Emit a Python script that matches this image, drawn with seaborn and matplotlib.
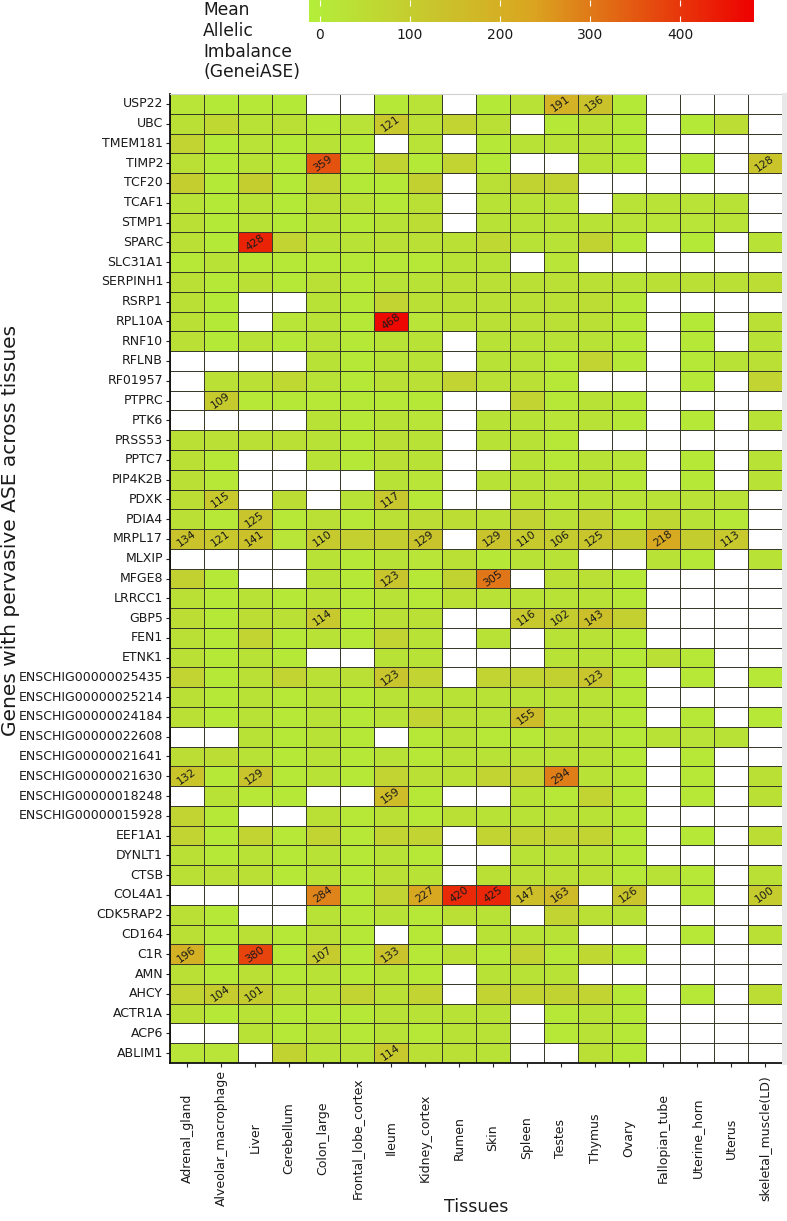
import numpy as np
import pandas as pd
import matplotlib
matplotlib.use("Agg")
import matplotlib.pyplot as plt
import seaborn as sns
from matplotlib.colors import LinearSegmentedColormap
from matplotlib.patches import Rectangle

N = np.nan

tissues = ["Adrenal_gland", "Alveolar_macrophage", "Liver", "Cerebellum", "Colon_large",
           "Frontal_lobe_cortex", "Ileum", "Kidney_cortex", "Rumen", "Skin", "Spleen",
           "Testes", "Thymus", "Ovary", "Fallopian_tube", "Uterine_horn", "Uterus",
           "skeletal_muscle(LD)"]

genes = ["USP22", "UBC", "TMEM181", "TIMP2", "TCF20", "TCAF1", "STMP1", "SPARC", "SLC31A1",
         "SERPINH1", "RSRP1", "RPL10A", "RNF10", "RFLNB", "RF01957", "PTPRC", "PTK6", "PRSS53",
         "PPTC7", "PIP4K2B", "PDXK", "PDIA4", "MRPL17", "MLXIP", "MFGE8", "LRRCC1", "GBP5",
         "FEN1", "ETNK1", "ENSCHIG00000025435", "ENSCHIG00000025214", "ENSCHIG00000024184",
         "ENSCHIG00000022608", "ENSCHIG00000021641", "ENSCHIG00000021630", "ENSCHIG00000018248",
         "ENSCHIG00000015928", "EEF1A1", "DYNLT1", "CTSB", "COL4A1", "CDK5RAP2", "CD164", "C1R",
         "AMN", "AHCY", "ACTR1A", "ACP6", "ABLIM1"]

# Mean allelic imbalance per gene (rows, top to bottom), one list per tissue
adrenal_gland = [20, 35, 75, 35, 95, 30, 35, 35, 15, 35, 35, 35, 35, N, N, N, N, 35, 35, 35, 45, 35, 134, N, 85, 35, 45, 35, 35, 75, 35, 35, N, 45, 132, N, 75, 75, 35, 35, N, 35, 35, 196, 35, 75, 35, N, 20]
alveolar_macrophage = [5, 65, 5, 5, 5, 5, 5, 5, 30, 10, 5, 5, 5, N, 35, 109, N, 35, 15, 15, 115, 15, 121, N, 10, 10, 10, 10, 10, 10, 10, 10, N, 45, 10, 30, 10, 10, 10, 35, N, 10, 10, 10, 10, 104, 10, N, 20]
liver = [10, 30, 25, 30, 95, 30, 30, 428, 15, 35, N, N, 30, N, 35, 15, N, 35, N, N, N, 125, 141, N, N, 30, 45, 75, 30, 35, 30, 30, 30, 30, 129, 15, N, 75, 30, 35, N, N, 35, 380, 35, 101, 30, 30, N]
cerebellum = [5, 35, 5, 5, 5, 5, 5, 75, 10, 10, N, 20, 10, N, 65, 10, N, 35, N, N, 45, 15, 20, N, N, 10, 35, 10, 10, 75, 15, 15, 10, 10, 10, 10, N, 15, 10, 10, N, N, 10, 10, 10, 35, 10, 10, 80]
colon_large = [N, 10, 30, 359, 75, 35, 30, 30, 15, 35, 30, 30, 30, 30, 30, 15, 30, 30, 30, N, N, 35, 110, 30, 30, 30, 114, 30, N, 35, 30, 30, 30, 30, 30, N, 35, 75, 30, 30, 284, 30, 35, 107, 30, 35, 15, 30, 30]
frontal_lobe_cortex = [N, 25, 5, 10, 5, 30, 10, 30, 10, 15, 10, 10, 10, 10, 10, 10, 10, 10, 10, N, 30, 15, 90, 10, 10, 10, 10, 10, N, 35, 10, 10, 10, 10, 10, N, 15, 15, 10, 10, 10, 10, 10, 10, 10, 75, 10, 10, 30]
ileum = [10, 121, N, 80, 10, 10, 30, 35, 15, 30, 75, 468, 30, 30, 35, 15, 30, 35, 35, 30, 117, 35, 95, 30, 123, 30, 35, 75, 30, 123, 30, 30, N, 30, 75, 159, 35, 75, 30, 35, 75, 30, N, 133, 30, 35, 30, 30, 114]
kidney_cortex = [25, 35, 25, 5, 85, 35, 45, 35, 15, 30, 35, 20, 30, 30, 35, 10, 20, 30, 30, 20, 15, 45, 129, 20, 15, 15, 35, 30, 30, 75, 30, 75, 15, 15, 35, 15, 15, 75, 15, 30, 227, 15, 15, 15, 15, 75, 30, 15, 35]
rumen = [N, 75, N, 75, N, N, N, 35, 30, 35, 35, 35, N, N, 75, N, N, N, N, N, N, 45, N, 35, 80, 35, N, N, N, N, 30, 35, 30, 30, 35, N, 35, N, N, N, 420, 35, N, 35, N, N, 30, 30, 35]
skin = [5, 35, 10, 5, 35, 30, 30, 65, 30, 35, 35, 35, 30, 30, 35, N, 30, 30, N, 30, N, 35, 129, 10, 305, 30, N, 30, N, 75, 30, 30, 15, 30, 75, N, 30, 75, N, 35, 425, 30, 30, 15, 30, 75, 30, 30, 30]
spleen = [30, N, 30, N, 80, 30, 30, 30, N, 35, 35, 35, 30, 30, 35, 75, 30, 30, 30, 30, 35, 75, 110, 30, N, 30, 116, N, N, 75, 30, 155, 15, 30, 75, 30, 30, 75, 30, 35, 147, N, 30, 75, 30, 75, N, N, N]
testes = [191, 10, 30, N, 80, 30, 30, 30, 20, 35, 35, 35, 30, 15, 15, 15, 20, 15, 15, 25, 20, 35, 106, 30, 35, 30, 102, 30, 30, 85, 30, 30, 30, 30, 294, 15, 30, 75, 30, 35, 163, 75, 30, 15, 30, 80, 15, 15, N]
thymus = [136, 30, 30, 30, N, N, 30, 80, N, 35, 45, 35, 30, 75, N, 30, 30, N, 30, 30, 30, 75, 125, N, 35, 30, 143, 30, 30, 123, 30, 30, 30, 30, 30, 75, 30, 75, 30, 35, N, 35, N, 65, N, 75, 30, 30, 35]
ovary = [5, 5, 5, 10, N, 25, 25, 10, N, 30, 10, 10, 10, 10, N, 10, 10, N, 20, 15, 25, 15, 99, N, 10, 10, 90, 10, 10, 10, 10, 10, 10, 10, 10, 10, 10, 10, 10, 10, 126, 30, N, 15, N, 10, 10, 10, 10]
fallopian_tube = [N, N, N, N, N, 25, 20, N, N, 35, N, N, N, N, N, N, N, N, N, N, 25, 65, 218, 30, N, N, N, N, 35, N, N, N, 30, N, N, N, N, N, N, 30, N, N, N, N, N, N, N, N, N]
uterine_horn = [N, 5, N, 5, N, 25, 20, 5, N, 35, N, 5, 10, 10, 10, N, 10, N, 10, 10, 25, 30, 98, 10, N, N, N, N, 15, 15, N, 15, 25, 15, 15, 15, N, 10, N, 15, 15, N, 15, N, N, 15, N, N, N]
uterus = [N, 45, N, N, N, 30, 25, N, N, 35, N, N, N, 30, N, N, N, N, N, N, 25, 15, 113, N, N, N, N, N, N, N, N, N, 30, N, N, N, N, N, N, N, N, N, N, N, N, N, N, N, N]
skeletal_muscle = [N, N, N, 128, N, N, N, 30, N, 45, N, 35, 30, 35, 75, N, 30, N, 30, 30, N, N, N, 30, N, N, N, N, N, 15, N, 15, N, N, 35, 35, N, 45, N, 35, 100, N, 35, N, N, 45, N, N, N]

columns = [adrenal_gland, alveolar_macrophage, liver, cerebellum, colon_large,
           frontal_lobe_cortex, ileum, kidney_cortex, rumen, skin, spleen, testes, thymus,
           ovary, fallopian_tube, uterine_horn, uterus, skeletal_muscle]

df = pd.DataFrame(np.array(columns, dtype=float).T, index=genes, columns=tissues)
annot = df.map(lambda v: f"{int(v)}" if (not np.isnan(v) and v >= 100) else "")

cmap = LinearSegmentedColormap.from_list(
    "ase", [(0.0, "#B3EE3A"), (0.5, "#DAA520"), (1.0, "#EE0000")])

W, H = 787, 1221
fig = plt.figure(figsize=(W / 100, H / 100), dpi=100)
ax = fig.add_axes([170 / W, 1 - 1063 / H, 612 / W, 969 / H])
cax = fig.add_axes([309 / W, 1 - 22 / H, 445 / W, 22 / H])

sns.heatmap(df, ax=ax, cmap=cmap, vmin=-12, vmax=482, annot=annot, fmt="",
            annot_kws={"rotation": 35, "fontsize": 7.8, "color": "#1a1a1a"},
            linewidths=0.5, linecolor="#3a3a2a", cbar_ax=cax,
            cbar_kws={"orientation": "horizontal", "ticks": [0, 100, 200, 300, 400]})
mesh = ax.collections[0]

# light grey grid shown where data are missing
nr, nc = df.shape
ax.hlines(np.arange(nr + 1), 0, nc, colors="#ababab", linewidth=0.7, zorder=0)
ax.vlines(np.arange(nc + 1), 0, nr, colors="#ababab", linewidth=0.7, zorder=0)

ax.set_xlabel("")
ax.set_ylabel("")
ax.set_yticks(np.arange(nr) + 0.5)
ax.set_yticklabels(genes, rotation=0, fontsize=9, color="#1a1a1a")
ax.set_xticks(np.arange(nc) + 0.5)
ax.set_xticklabels(tissues, rotation=90, va="center", ha="center", fontsize=9, color="#1a1a1a")
ax.tick_params(axis="y", length=3, width=0.8, color="#222222", pad=2)
ax.tick_params(axis="x", length=3, width=0.8, color="#222222", pad=51)

for side in ["left", "bottom"]:
    ax.spines[side].set_visible(True)
    ax.spines[side].set_color("#111111")
    ax.spines[side].set_linewidth(1.3)
ax.spines["top"].set_visible(True)
ax.spines["top"].set_color("#d0d0d0")
ax.spines["top"].set_linewidth(0.8)
ax.spines["right"].set_visible(False)

fig.patches.append(Rectangle((782 / W, 1 - 1065 / H), 5 / W, 972 / H,
                             transform=fig.transFigure, facecolor="#e8e8e8",
                             edgecolor="none", zorder=0))

cbar = mesh.colorbar
cbar.outline.set_visible(False)
cax.tick_params(which="both", direction="in", color="white", length=4, width=0.8,
                top=True, bottom=True, labeltop=False, labelbottom=True,
                labelsize=10, pad=4, labelcolor="#1a1a1a")

fig.text(203 / W, 1 - 1 / H, "Mean\nAllelic\nImbalance\n(GeneiASE)", ha="left", va="top",
         fontsize=12.3, linespacing=1.2, color="#1a1a1a")
fig.text(476 / W, 1 - 1207 / H, "Tissues", ha="center", va="center", fontsize=12.5, color="#1a1a1a")
fig.text(11 / W, 1 - 530 / H, "Genes with pervasive ASE across tissues", ha="center",
         va="center", rotation=90, fontsize=14.5, color="#1a1a1a")

fig.savefig("out.png", dpi=100)
